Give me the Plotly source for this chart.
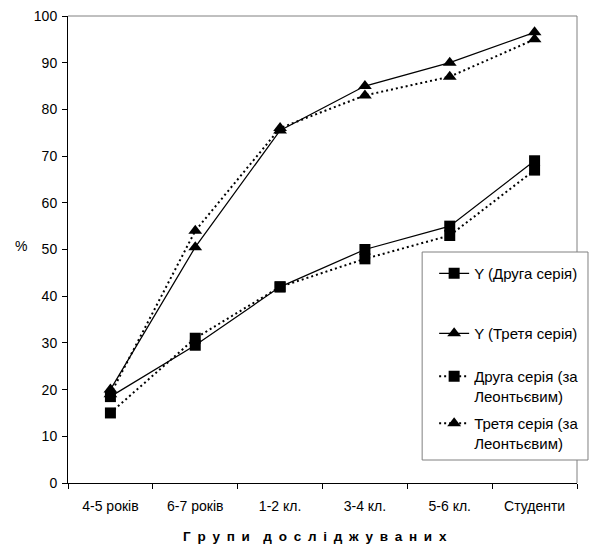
import plotly.graph_objects as go

categories = ["4-5 років", "6-7 років", "1-2 кл.", "3-4 кл.", "5-6 кл.", "Студенти"]
y_druha = [18.5, 29.5, 42, 50, 55, 69]
y_tretia = [20, 50.5, 75.5, 85, 90, 96.5]
leont_druha = [15, 31, 42, 48, 53, 67]
leont_tretia = [19, 54, 76, 83, 87, 95]
series_names = ["Y (Друга серія)", "Y (Третя серія)",
                "Друга серія (за<br>Леонтьєвим)", "Третя серія (за<br>Леонтьєвим)"]
y_ticks = list(range(0, 101, 10))

W, H = 590, 551
L, R, T, B = 67.5, 13, 16, 68
pw, ph = W - L - R, H - T - B

def px(x):
    return (x - L) / pw

def py(y):
    return (H - B - y) / ph

FONT = "Liberation Sans, Arial, sans-serif"

fig = go.Figure()
specs = [
    (y_druha, "square", 11, "solid", 1.25, "legend"),
    (y_tretia, "triangle-up", 12, "solid", 1.25, "legend2"),
    (leont_druha, "square", 11, "2px,3px", 2, "legend3"),
    (leont_tretia, "triangle-up", 12, "2px,3px", 2, "legend4"),
]
for (vals, sym, sz, dash, lw, lg), name in zip(specs, series_names):
    fig.add_trace(go.Scatter(
        x=categories, y=vals, name=name, mode="lines+markers",
        line=dict(color="black", width=lw, dash=dash),
        marker=dict(symbol=sym, size=sz, color="black", line=dict(width=0)),
        legend=lg,
    ))

# legend box
box_l, box_r, box_t, box_b = 422, 588, 252, 460
fig.add_shape(type="rect", xref="paper", yref="paper",
              x0=px(box_l), x1=px(box_r), y0=py(box_t), y1=py(box_b),
              line=dict(color="#808080", width=1), fillcolor="white", layer="above")
# plot area top/right border
fig.add_shape(type="line", xref="paper", yref="paper", x0=0, x1=1, y0=1, y1=1,
              line=dict(color="#808080", width=1), layer="below")
fig.add_shape(type="line", xref="paper", yref="paper", x0=1, x1=1, y0=0, y1=1,
              line=dict(color="#808080", width=1), layer="below")

leg_common = dict(xanchor="left", yanchor="top", bgcolor="rgba(0,0,0,0)",
                  borderwidth=0, font=dict(family=FONT, size=15, color="black"),
                  itemwidth=30, valign="top", tracegroupgap=0, itemclick=False)
leg_tops = [276, 336, 379, 426]
layout_legs = {}
for i, yc in enumerate(leg_tops):
    key = "legend" if i == 0 else f"legend{i+1}"
    layout_legs[key] = dict(x=px(434), y=py(yc - 19), **leg_common)

title_text = "\u2002\u2002".join("\u2002".join(w) for w in ["Групи", "досліджуваних"])
fig.add_annotation(text=title_text, xref="paper", yref="paper",
                   x=px(315), y=py(536), xanchor="center", yanchor="middle",
                   showarrow=False, font=dict(family=FONT, size=13.5, color="black", weight="bold"))
fig.add_annotation(text="%", xref="paper", yref="paper",
                   x=px(20), y=py(246), xanchor="center", yanchor="middle",
                   showarrow=False, font=dict(family=FONT, size=14, color="black"))

fig.update_layout(
    width=W, height=H,
    margin=dict(l=L, r=R, t=T, b=B, pad=0, autoexpand=False),
    paper_bgcolor="white", plot_bgcolor="white",
    font=dict(family=FONT, size=14, color="black"),
    showlegend=True,
    **layout_legs,
)
fig.update_xaxes(type="category", range=[-0.5, 5.5], tickson="boundaries",
                 ticks="outside", ticklen=5, tickcolor="black", tickwidth=1,
                 showline=True, linecolor="black", linewidth=1,
                 showgrid=False, zeroline=False, ticklabelstandoff=10,
                 tickfont=dict(family=FONT, size=14, color="black"))
fig.update_yaxes(range=[0, 100], tickvals=y_ticks, ticks="outside", ticklen=5,
                 tickcolor="black", tickwidth=1, showline=True, linecolor="black",
                 linewidth=1, showgrid=False, zeroline=False, ticklabelstandoff=2,
                 tickfont=dict(family=FONT, size=14, color="black"))

fig.write_html("out.html")
